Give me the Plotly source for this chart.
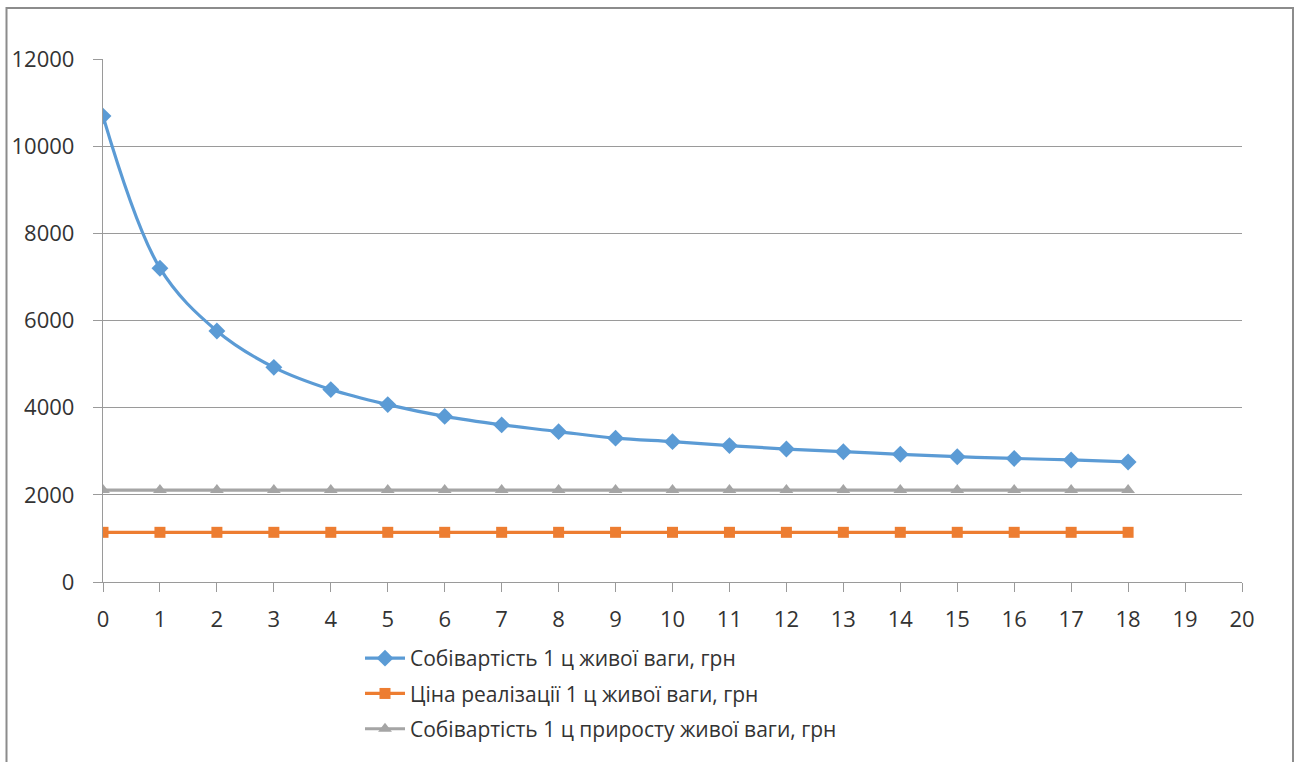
import plotly.graph_objects as go

x_vals = list(range(0, 19))
cost_live = [10690, 7200, 5760, 4925, 4415, 4070, 3800, 3605, 3450, 3300, 3220,
             3130, 3050, 2990, 2930, 2875, 2835, 2800, 2755]
price_sale = [1140] * 19
cost_gain = [2110] * 19

names = ["Собівартість 1 ц живої ваги, грн",
         "Ціна реалізації 1 ц живої ваги, грн",
         "Собівартість 1 ц приросту живої ваги, грн"]
x_ticks = list(range(0, 21))
y_ticks = [0, 2000, 4000, 6000, 8000, 10000, 12000]

W, H = 1299, 762
L, R, T, B = 103, 57, 59, 180
FONT = "Open Sans"

fig = go.Figure()
fig.add_trace(go.Scatter(x=x_vals, y=cost_live, name=names[0], mode="lines+markers",
                         line=dict(color="#5B9BD5", width=3.2, shape="spline", smoothing=1.0),
                         marker=dict(symbol="diamond", size=13, color="#5B9BD5"),
                         legendgroup="a"))
fig.add_trace(go.Scatter(x=x_vals, y=price_sale, name=names[1], mode="lines+markers",
                         line=dict(color="#ED7D31", width=3.2),
                         marker=dict(symbol="square", size=11, color="#ED7D31"),
                         legendgroup="b"))
fig.add_trace(go.Scatter(x=x_vals, y=cost_gain, name=names[2], mode="lines+markers",
                         line=dict(color="#A5A5A5", width=3.2),
                         marker=dict(symbol="triangle-up", size=12, color="#A5A5A5"),
                         legendgroup="c"))

def px2x(px):
    return (px - L) / (W - L - R)

def px2y(py):
    return (H - B - py) / (H - T - B)

fig.update_layout(
    width=W, height=H,
    margin=dict(l=L, r=R, t=T, b=B, autoexpand=False),
    paper_bgcolor="white", plot_bgcolor="white",
    font=dict(family=FONT, size=21, color="#333333"),
    showlegend=True,
    legend=dict(x=px2x(360), y=px2y(638), xanchor="left", yanchor="top",
                font=dict(family=FONT, size=21, color="#333333"),
                tracegroupgap=5, bgcolor="rgba(0,0,0,0)", itemwidth=40),
    xaxis=dict(range=[0, 20], tickvals=x_ticks, showgrid=False, zeroline=False,
               showline=True, linecolor="#9a9a9a", linewidth=1.3,
               ticks="outside", ticklen=9, tickcolor="#9a9a9a", tickwidth=1.3,
               ticklabelstandoff=8,
               tickfont=dict(family=FONT, size=22, color="#333333")),
    yaxis=dict(range=[0, 12000], tickvals=y_ticks, ticktext=[str(v) for v in y_ticks],
               showgrid=True, gridcolor="#9a9a9a",
               gridwidth=1.3, zeroline=False, showline=True, linecolor="#9a9a9a",
               linewidth=1.3, ticks="outside", ticklen=9, tickcolor="#9a9a9a",
               tickwidth=1.3, ticklabelstandoff=14,
               tickfont=dict(family=FONT, size=22, color="#333333")),
    shapes=[dict(type="path", xref="paper", yref="paper",
                 path=f"M {px2x(6.5)} {px2y(800)} L {px2x(6.5)} {px2y(8)} L {px2x(1293)} {px2y(8)} L {px2x(1293)} {px2y(800)}",
                 line=dict(color="#8c8c8c", width=2))],
)

fig.write_html("out.html")
